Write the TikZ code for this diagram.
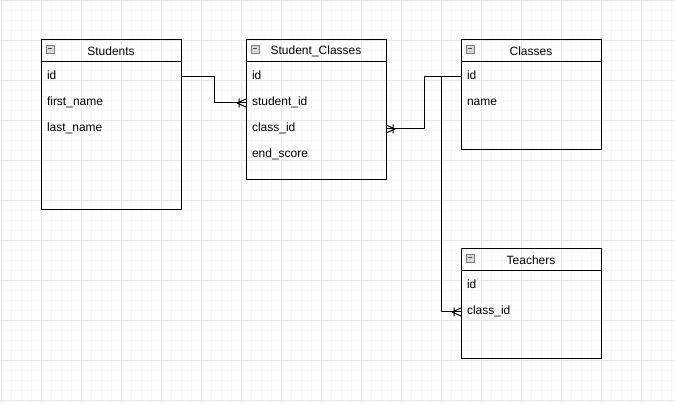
\documentclass[tikz,border=0pt]{standalone}
\usepackage{fontspec}
\setmainfont{Liberation Sans}
\usetikzlibrary{calc,positioning}
\definecolor{gridminor}{HTML}{F7F7F7}
\definecolor{gridmajor}{HTML}{E8E8E8}
\definecolor{togglegray}{HTML}{D8D8D8}
\tikzset{
header/.style={draw, line width=1pt, anchor=north west, outer sep=0pt, minimum width=140pt, minimum height=22pt, inner sep=0pt, font=\fontsize{12}{14}\selectfont}, % table title bar
field/.style={anchor=north, outer sep=0pt, text width=128pt, inner xsep=6pt, inner ysep=0pt, minimum height=26pt, align=left, text height=9pt, text depth=3pt, font=\fontsize{12}{14}\selectfont}, % one row of a table
toggle/.style={draw=gray, fill=togglegray, minimum size=8pt, inner sep=0pt,
  path picture={\draw[line width=1pt, black!70] ($(path picture bounding box.west)+(2pt,0)$) -- ($(path picture bounding box.east)+(-2pt,0)$);}},
crowfoot/.pic={\draw[line width=1pt] (-9,0) -- (0,-4) (-9,0) -- (0,4) (-7,-4.5) -- (-7,4.5);}
}

\begin{document}
\begin{tikzpicture}[x=1pt,y=-1pt,node distance=0pt]
\useasboundingbox (0,0) rectangle (675,403);
\fill[white] (0,0) rectangle (675,403);
% grid
\foreach \gx in {1,11,...,671} \draw[gridminor] (\gx,0) -- (\gx,403);
\foreach \gy in {0,10,...,400} \draw[gridminor] (0,\gy) -- (675,\gy);
\foreach \gx in {1,41,...,671} \draw[gridmajor] (\gx,0) -- (\gx,403);
\foreach \gy in {0,40,...,400} \draw[gridmajor] (0,\gy) -- (675,\gy);

% Students
\node[header] (students) at (41,40) {Students};
\node[field, below=2pt of students] (s_id) {id};
\node[field, below=of s_id] (s_first) {first\_name};
\node[field, below=of s_first] (s_last) {last\_name};
\draw[line width=1pt] (students.north west) rectangle ($(students.north east)+(0,170)$);
\node[toggle] (s_toggle) at ($(students.north west)+(9,9)$) {};

% Student_Classes
\node[header] (studclasses) at (246,40) {Student\_Classes};
\node[field, below=2pt of studclasses] (sc_id) {id};
\node[field, below=of sc_id] (sc_student) {student\_id};
\node[field, below=of sc_student] (sc_class) {class\_id};
\node[field, below=of sc_class] (sc_score) {end\_score};
\draw[line width=1pt] (studclasses.north west) rectangle ($(studclasses.north east)+(0,140)$);
\node[toggle] (sc_toggle) at ($(studclasses.north west)+(9,9)$) {};

% Classes
\node[header] (classes) at (461,40) {Classes};
\node[field, below=2pt of classes] (c_id) {id};
\node[field, below=of c_id] (c_name) {name};
\draw[line width=1pt] (classes.north west) rectangle ($(classes.north east)+(0,110)$);
\node[toggle] (c_toggle) at ($(classes.north west)+(9,9)$) {};

% Teachers
\node[header] (teachers) at (461,249) {Teachers};
\node[field, below=2pt of teachers] (t_id) {id};
\node[field, below=of t_id] (t_class) {class\_id};
\draw[line width=1pt] (teachers.north west) rectangle ($(teachers.north east)+(0,110)$);
\node[toggle] (t_toggle) at ($(teachers.north west)+(9,9)$) {};

% relations
\draw[line width=1pt] (s_id.east) -- ++(33,0) |- (sc_student.west);
\pic at (sc_student.west) {crowfoot};
\draw[line width=1pt] (sc_class.east) -- ++(38,0) |- (c_id.west);
\pic[rotate=180] at (sc_class.east) {crowfoot};
\draw[line width=1pt] (c_id.west) -- ++(-20,0) |- (t_class.west);
\pic at (t_class.west) {crowfoot};
\end{tikzpicture}
\end{document}
